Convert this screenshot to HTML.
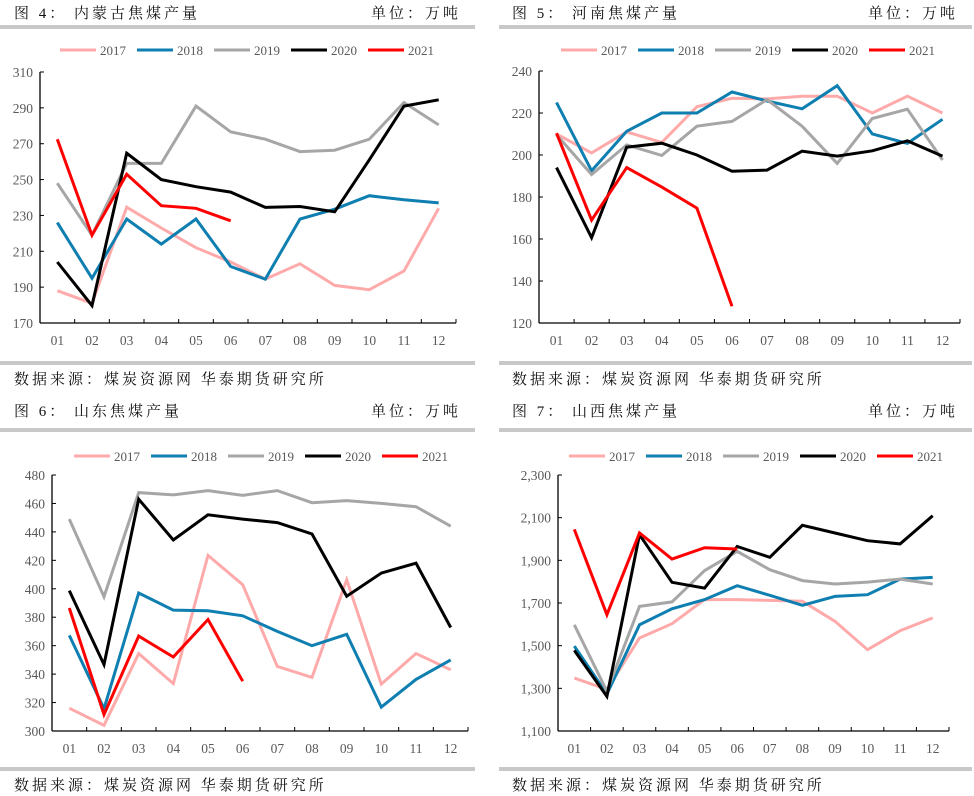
<!DOCTYPE html>
<html><head><meta charset="utf-8"><style>
html,body{margin:0;padding:0;background:#fff;}
svg{display:block;}
</style></head><body>
<svg id="root" width="974" height="796" xmlns="http://www.w3.org/2000/svg"></svg>
<script>
const months = ["01","02","03","04","05","06","07","08","09","10","11","12"];
const seriesYears = ["2017","2018","2019","2020","2021"];
const seriesColors = ["#FFAAAA","#0E7FB0","#A6A6A6","#000000","#FF0000"];

const nmg2017 = [188,181,234.6,223,212,204,194.5,203,191,188.6,199,234];
const nmg2018 = [226,195,228,214,228,201.5,194.5,228,233.5,241,238.7,237];
const nmg2019 = [248,219,259,259,291,276.6,272.5,265.6,266.4,272.5,293,280.5];
const nmg2020 = [204,179.7,264.7,250,246,243,234.5,235,232,261,291,294.5];
const nmg2021 = [272.5,219,253,235.4,234,227];
const nmgTicks = [170,190,210,230,250,270,290,310];

const hn2017 = [210,201,211,206,223,227,226.7,228,228,220,228,220];
const hn2018 = [225,192.5,211.3,220,220,230,225.7,222,233,210,205.5,217];
const hn2019 = [209.6,190.7,204.8,199.8,213.7,216,226.4,213.7,196,217.4,221.8,197.6];
const hn2020 = [194,160.6,203.7,205.6,200,192.3,192.8,201.8,199.5,202,206.7,199.5];
const hn2021 = [210.4,169,194,184.7,174.7,128];
const hnTicks = [120,140,160,180,200,220,240];

const sd2017 = [316,304,354.4,333.3,423.5,402.9,345.4,337.7,406.4,333,354.5,343];
const sd2018 = [367.2,315.7,397,385,384.5,381,370,360,368,316.8,336.3,350];
const sd2019 = [449,394.4,467.6,466,469,465.7,469,460.5,462,460,457.7,444];
const sd2020 = [398.7,346.7,463,434.3,452,449,446.5,438.5,394.8,411,418,372.8];
const sd2021 = [386.5,311.5,366.7,352,378.4,335];
const sdTicks = [300,320,340,360,380,400,420,440,460,480];

const sx2017 = [1348,1295,1536,1603,1716,1716,1712,1708,1614,1481,1570,1630];
const sx2018 = [1498,1273,1598,1673,1716,1781,1736,1689,1731,1739,1812,1820];
const sx2019 = [1598,1286,1684,1705,1852,1942,1856,1805,1789,1798,1812,1789];
const sx2020 = [1478,1262,2020,1797,1770,1965,1914,2064,2028,1992,1977,2109];
const sx2021 = [2045,1645,2028,1906,1959,1953];
const sxTicks = [1100,1300,1500,1700,1900,2100,2300];

const NS="http://www.w3.org/2000/svg";
const root=document.getElementById('root');
function mk(tag,attrs,parent){const e=document.createElementNS(NS,tag);for(const k in attrs)e.setAttribute(k,attrs[k]);(parent||root).appendChild(e);return e;}
function fmt(v){return v>=1000?v.toLocaleString('en-US'):String(v);}

const panels=[
 {name:"inner-mongolia",title:"图 4：  内蒙古焦煤产量",ox:0,oy:0,barX0:0,barX1:475,ax:40,ax1:456,yTop:72,yBot:323,ticks:nmgTicks,series:[nmg2017,nmg2018,nmg2019,nmg2020,nmg2021],legX:60,legY:50,titleX:14},
 {name:"henan",title:"图 5：  河南焦煤产量",ox:487,oy:0,barX0:12,barX1:485,ax:52,ax1:473,yTop:71,yBot:323,ticks:hnTicks,series:[hn2017,hn2018,hn2019,hn2020,hn2021],legX:74,legY:50,titleX:25},
 {name:"shandong",title:"图 6：  山东焦煤产量",ox:0,oy:398,barX0:0,barX1:475,ax:52,ax1:468,yTop:77,yBot:333,ticks:sdTicks,series:[sd2017,sd2018,sd2019,sd2020,sd2021],legX:74,legY:58,titleX:14},
 {name:"shanxi",title:"图 7：  山西焦煤产量",ox:487,oy:398,barX0:12,barX1:485,ax:71,ax1:462,yTop:77,yBot:333,ticks:sxTicks,series:[sx2017,sx2018,sx2019,sx2020,sx2021],legX:82,legY:58,titleX:25}
];

panels.forEach(p=>{
  const g=mk('g',{transform:`translate(${p.ox},${p.oy})`});
  
  
  const serif='"Liberation Serif","Noto Serif CJK SC",serif';
  const t=mk('text',{x:p.titleX,y:18,'font-size':15,'font-family':serif,fill:'#111','letter-spacing':3},g);t.textContent=p.title;
  
  
  const u=mk('text',{x:p.barX1-14,y:18,'font-size':15,'font-family':serif,fill:'#111','text-anchor':'end','letter-spacing':3},g);u.textContent="单位：万吨";
  
  
  const yb=p.oy===0?25:30;
  const b1=mk('rect',{x:p.barX0,y:yb,width:p.barX1-p.barX0,height:4,fill:'#C8C8C8'},g);
  
  
  const yb2=p.oy===0?361:369;
  const b2=mk('rect',{x:p.barX0,y:yb2,width:p.barX1-p.barX0,height:4,fill:'#C8C8C8'},g);
  
  
  const f=mk('text',{x:p.titleX,y:yb2+23,'font-size':15,'font-family':serif,fill:'#111','letter-spacing':3},g);f.textContent="数据来源：煤炭资源网 华泰期货研究所";
  
  
  seriesYears.forEach((yr,i)=>{
    const lx=p.legX+i*77;
    const l=mk('line',{x1:lx,y1:p.legY,x2:lx+36,y2:p.legY,stroke:seriesColors[i],'stroke-width':3},g);
    
    
    const lt=mk('text',{x:lx+40,y:p.legY+5,'font-size':13,'font-family':'"Liberation Serif",serif',fill:'#595959'},g);lt.textContent=yr;
    
    
  });
  const tmin=p.ticks[0],tmax=p.ticks[p.ticks.length-1];
  const yS=v=>p.yBot-(v-tmin)/(tmax-tmin)*(p.yBot-p.yTop);
  const bw=(p.ax1-p.ax)/12;
  const xS=i=>p.ax+bw*(i+0.5);
  const ya=mk('line',{x1:p.ax,y1:p.yTop,x2:p.ax,y2:p.yBot,stroke:'#000','stroke-width':1.3},g);
  
  
  const xa=mk('line',{x1:p.ax,y1:p.yBot,x2:p.ax1,y2:p.yBot,stroke:'#000','stroke-width':1.3},g);
  
  
  p.ticks.forEach(v=>{
    const y=yS(v);
    mk('line',{x1:p.ax,y1:y,x2:p.ax+4,y2:y,stroke:'#000','stroke-width':1},g);
    const tl=mk('text',{x:p.ax-7,y:y+5,'font-size':13.5,'font-family':'"Liberation Serif",serif',fill:'#595959','text-anchor':'end'},g);tl.textContent=fmt(v);
    
    
  });
  for(let i=0;i<=12;i++){mk('line',{x1:p.ax+bw*i,y1:p.yBot,x2:p.ax+bw*i,y2:p.yBot-4,stroke:'#000','stroke-width':1},g);}
  months.forEach((m,i)=>{
    const ml=mk('text',{x:xS(i),y:p.yBot+22,'font-size':13.5,'font-family':'"Liberation Serif",serif',fill:'#595959','text-anchor':'middle'},g);ml.textContent=m;
    
    
  });
  p.series.forEach((arr,si)=>{
    const pts=arr.map((v,i)=>xS(i).toFixed(1)+','+yS(v).toFixed(1)).join(' ');
    const pl=mk('polyline',{points:pts,fill:'none',stroke:seriesColors[si],'stroke-width':3,'stroke-linejoin':'miter'},g);
    
    
  });
});
</script>
</body></html>
